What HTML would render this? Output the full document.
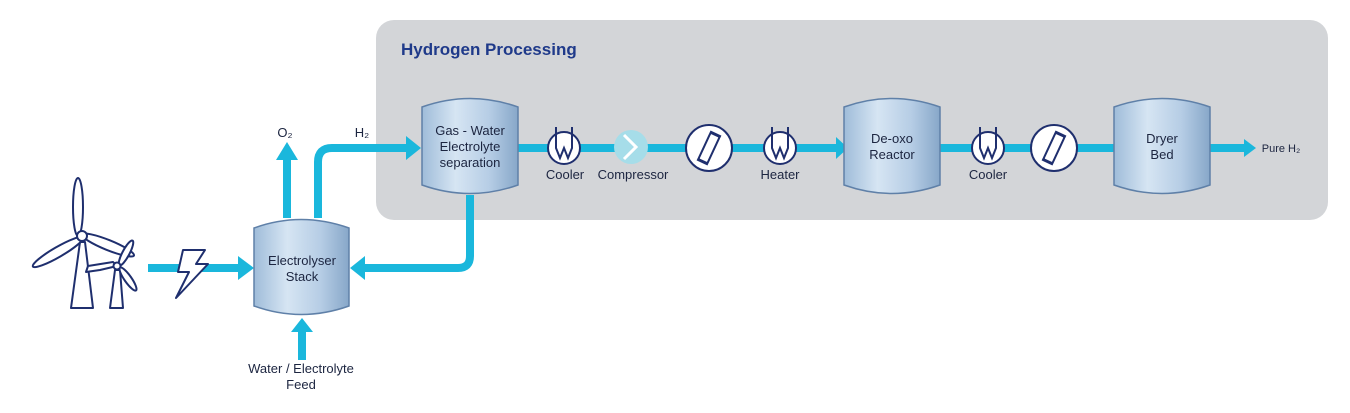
<!DOCTYPE html>
<html><head><meta charset="utf-8"><style>
html,body{margin:0;padding:0;background:#fff;}
svg{display:block;font-family:"Liberation Sans",sans-serif;}
</style></head><body>
<svg width="1350" height="413" viewBox="0 0 1350 413" xmlns="http://www.w3.org/2000/svg">
<defs>
<linearGradient id="vg" x1="0" x2="1" y1="0" y2="0">
<stop offset="0" stop-color="#9fbcd9"/><stop offset="0.35" stop-color="#d6e5f3"/><stop offset="0.7" stop-color="#b6cde5"/><stop offset="1" stop-color="#87a7c9"/>
</linearGradient>
<g id="hx"><circle r="16" fill="#fff" stroke="#1f2f6e" stroke-width="2"/><path d="M-8,-21 V0 L-4,10 L0,0 L4,10 L8,0 V-21" fill="none" stroke="#1f2f6e" stroke-width="2"/></g>
<g id="flt"><circle r="23" fill="#fff" stroke="#1f2f6e" stroke-width="2"/><g transform="rotate(25)"><rect x="-5" y="-15" width="10" height="30" rx="2" fill="#fff" stroke="#1f2f6e" stroke-width="2"/><line x1="-6" y1="-15" x2="6" y2="-15" stroke="#1f2f6e" stroke-width="3"/><line x1="-6" y1="15" x2="6" y2="15" stroke="#1f2f6e" stroke-width="3"/></g></g>
</defs>
<rect x="376" y="20" width="952" height="200" rx="18" fill="#d3d5d8"/>
<text x="401" y="55" font-size="17" font-weight="bold" fill="#1f3a8a">Hydrogen Processing</text>
<g stroke="#1ab7dc" stroke-width="8" fill="none">
<line x1="518" y1="148" x2="836" y2="148"/>
<line x1="940" y1="148" x2="1114" y2="148"/>
<line x1="1210" y1="148" x2="1244" y2="148"/>
<line x1="148" y1="268" x2="240" y2="268"/>
<path d="M318,218 V162 Q318,148 332,148 H408"/>
<line x1="287" y1="218" x2="287" y2="158"/>
<path d="M470,195 V256 Q470,268 458,268 H364"/>
<line x1="302" y1="360" x2="302" y2="330"/>
</g>
<g fill="#1ab7dc">
<polygon points="836,137 848,148 836,159"/>
<polygon points="1244,139 1256,148 1244,157"/>
<polygon points="238,256 254,268 238,280"/>
<polygon points="406,136 421,148 406,160"/>
<polygon points="276,160 287,142 298,160"/>
<polygon points="365,256 350,268 365,280"/>
<polygon points="291,332 302,318 313,332"/>
</g>
<g stroke="#5f80a8" stroke-width="1.5" fill="url(#vg)">
<path d="M422,107 Q470,90 518,107 V185 Q470,202 422,185 Z"/>
<path d="M254,228 Q301,211 349,228 V306 Q301,323 254,306 Z"/>
<path d="M844,107 Q892,90 940,107 V185 Q892,202 844,185 Z"/>
<path d="M1114,107 Q1162,90 1210,107 V185 Q1162,202 1114,185 Z"/>
</g>
<g font-size="13" fill="#1c2540" text-anchor="middle">
<text x="470" y="135">Gas - Water</text><text x="470" y="151">Electrolyte</text><text x="470" y="167">separation</text>
<text x="302" y="265">Electrolyser</text><text x="302" y="281">Stack</text>
<text x="892" y="143">De-oxo</text><text x="892" y="159">Reactor</text>
<text x="1162" y="143">Dryer</text><text x="1162" y="159">Bed</text>
<text x="285" y="137">O₂</text><text x="362" y="137">H₂</text>
<text x="565" y="179">Cooler</text><text x="633" y="179">Compressor</text>
<text x="780" y="179">Heater</text><text x="988" y="179">Cooler</text>
<text x="301" y="373">Water / Electrolyte</text><text x="301" y="389">Feed</text>
<text x="1281" y="152" font-size="11">Pure H₂</text>
</g>
<use href="#hx" x="564" y="148"/>
<circle cx="631" cy="147" r="17" fill="#a6dde9"/>
<path d="M624,135 L636,147 L624,159" fill="none" stroke="#fff" stroke-width="3"/>
<use href="#flt" x="709" y="148"/>
<use href="#hx" x="780" y="148"/>
<use href="#hx" x="988" y="148"/>
<use href="#flt" x="1054" y="148"/>
<g fill="#fff" stroke="#1f2f6e" stroke-width="2" stroke-linejoin="round">
<path d="M80,242 L71,308 H93 L85,242 Z"/>
<path d="M115,270 L110,308 H123 L120,270 Z"/>
<ellipse cx="78" cy="207" rx="5" ry="29"/>
<ellipse cx="58" cy="252" rx="5" ry="29" transform="rotate(60 58 252)"/>
<ellipse cx="108" cy="245" rx="5" ry="28" transform="rotate(-68 108 245)"/>
<circle cx="82" cy="236" r="5"/>
<path d="M117,266 L100,270 L86,272 L88,266 L113,262 Z"/>
<ellipse cx="126" cy="253" rx="3.5" ry="14" transform="rotate(28 126 253)"/>
<ellipse cx="128" cy="279" rx="3.5" ry="14" transform="rotate(-35 128 279)"/>
<circle cx="117" cy="266" r="3.5"/>
<path d="M183,250 H205 L196,264 H208 L176,298 L189,272 H178 Z"/>
</g>
</svg>
</body></html>
